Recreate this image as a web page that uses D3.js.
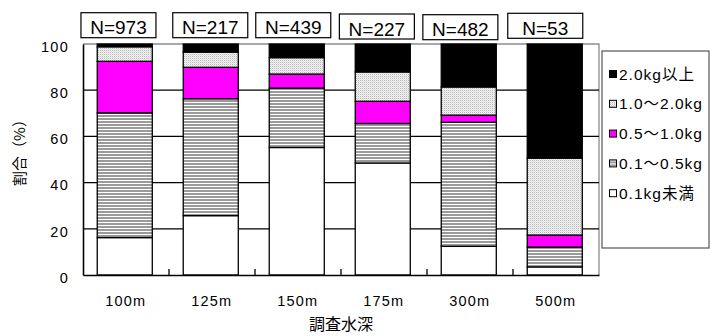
<!DOCTYPE html>
<html lang="ja">
<head>
<meta charset="utf-8">
<script src="https://cdn.jsdelivr.net/npm/d3@7"></script>
<style>
  html, body { margin: 0; padding: 0; background: #fff; }
  svg { display: block; }
  .lat { font-family: "Liberation Sans", Arial, "Noto Sans CJK JP", sans-serif; }
  .cjk { font-family: "Noto Sans CJK JP", sans-serif; }
</style>
</head>
<body>
<svg id="chart" width="712" height="336"></svg>
<script>
// Survey depths and sample counts
const depths = ["100m", "125m", "150m", "175m", "300m", "500m"];
const sampleCounts = [973, 217, 439, 227, 482, 53];

// Weight classes, bottom of the stack first
const weightClasses = ["0.1kg未満", "0.1～0.5kg", "0.5～1.0kg", "1.0～2.0kg", "2.0kg以上"];

// Share of each weight class (%) per depth
const under01 = [16.2, 25.7, 55.2, 48.5, 12.4, 3.5];
const from01to05 = [54.0, 50.6, 25.7, 17.1, 53.7, 8.6];
const from05to10 = [22.3, 13.6, 6.1, 9.6, 3.1, 5.2];
const from10to20 = [6.3, 6.6, 7.1, 12.7, 12.2, 33.3];
const over20 = [1.2, 3.5, 5.9, 12.1, 18.6, 49.4];

const yTicks = [0, 20, 40, 60, 80, 100];

const seriesValues = [under01, from01to05, from05to10, from10to20, over20];
const rows = depths.map((d, i) => {
  const r = { depth: d };
  weightClasses.forEach((k, j) => { r[k] = seriesValues[j][i]; });
  return r;
});

const svg = d3.select("#chart");

const plot = { left: 83, right: 599, top: 44, bottom: 275 };

const x = d3.scaleBand()
  .domain(depths)
  .range([plot.left, plot.right])
  .paddingInner(0.36)
  .paddingOuter(0.18)
  .align(0.46);

const y = d3.scaleLinear().domain([0, 100]).range([plot.bottom, plot.top]);

// Fill patterns
const defs = svg.append("defs");
const stripes = defs.append("pattern")
  .attr("id", "pat-stripes").attr("patternUnits", "userSpaceOnUse")
  .attr("width", 4).attr("height", 3);
stripes.append("rect").attr("width", 4).attr("height", 3).attr("fill", "#fff");
stripes.append("rect").attr("y", 1).attr("width", 4).attr("height", 2).attr("fill", "#9a9a9a");

const dots = defs.append("pattern")
  .attr("id", "pat-dots").attr("patternUnits", "userSpaceOnUse")
  .attr("width", 2).attr("height", 2);
dots.append("rect").attr("width", 2).attr("height", 2).attr("fill", "#f4f4f4");
dots.append("rect").attr("width", 1).attr("height", 1).attr("fill", "#b8b8b8");
dots.append("rect").attr("x", 1).attr("y", 1).attr("width", 1).attr("height", 1).attr("fill", "#dcdcdc");

const fills = {
  "0.1kg未満": "#ffffff",
  "0.1～0.5kg": "url(#pat-stripes)",
  "0.5～1.0kg": "#ff00ff",
  "1.0～2.0kg": "url(#pat-dots)",
  "2.0kg以上": "#000000"
};

// Plot frame (top and right in grey)
svg.append("path")
  .attr("d", `M${plot.left},${plot.top}H${plot.right}V${plot.bottom}`)
  .attr("fill", "none").attr("stroke", "#8c8c8c").attr("stroke-width", 1.3);

// Horizontal gridlines
svg.append("g").selectAll("line")
  .data(yTicks.filter(t => t > 0 && t < 100))
  .join("line")
  .attr("x1", plot.left).attr("x2", plot.right)
  .attr("y1", d => y(d)).attr("y2", d => y(d))
  .attr("stroke", "#000").attr("stroke-width", 1.2);

// Stacked bars
const stack = d3.stack().keys(weightClasses);
const layers = stack(rows);

svg.append("g").selectAll("g")
  .data(layers)
  .join("g")
  .attr("fill", d => fills[d.key])
  .selectAll("rect")
  .data(d => d)
  .join("rect")
  .attr("x", d => x(d.data.depth))
  .attr("width", x.bandwidth())
  .attr("y", d => y(d[1]))
  .attr("height", d => y(d[0]) - y(d[1]))
  .attr("stroke", "#000")
  .attr("stroke-width", 1.3);

// Y axis
const yAxis = d3.axisLeft(y).tickValues(yTicks).tickSize(0).tickPadding(14);
const yg = svg.append("g").attr("transform", `translate(${plot.left},0)`).call(yAxis);
yg.select(".domain").attr("stroke", "#000").attr("stroke-width", 1.6);
yg.selectAll("text")
  .attr("font-size", 14.5)
  .attr("letter-spacing", "1.3px")
  .attr("fill", "#000")
  .attr("dy", "0.5em")
  .style("font-family", "'Liberation Sans', Arial, sans-serif");

// X axis with short inner ticks at band boundaries
const xAxis = d3.axisBottom(x).tickSize(0).tickPadding(21);
const xg = svg.append("g").attr("transform", `translate(0,${plot.bottom})`).call(xAxis);
xg.select(".domain").attr("stroke", "#000").attr("stroke-width", 1.6);
xg.selectAll("text")
  .attr("font-size", 14.5)
  .attr("letter-spacing", "1.2px")
  .attr("fill", "#000")
  .attr("dx", "1")
  .style("font-family", "'Liberation Sans', Arial, sans-serif");

const boundaries = d3.range(1, depths.length).map(i => plot.left + i * x.step());
svg.append("g").selectAll("line")
  .data(boundaries)
  .join("line")
  .attr("x1", d => d).attr("x2", d => d)
  .attr("y1", plot.bottom).attr("y2", plot.bottom - 6)
  .attr("stroke", "#000").attr("stroke-width", 1.3);

// Sample size boxes above the bars
const boxShift = [-6.3, -0.5, -3.5, -5.9, -8.4, -9.5];
const boxTop = [12.7, 12.7, 12.7, 14, 14.7, 13.3];
const boxW = 75, boxH = 25;
const nBoxes = svg.append("g").selectAll("g")
  .data(depths)
  .join("g")
  .attr("transform", (d, i) =>
    `translate(${x(d) + x.bandwidth() / 2 + boxShift[i] - boxW / 2},${boxTop[i]})`);
nBoxes.append("rect")
  .attr("width", boxW).attr("height", boxH)
  .attr("fill", "#fff").attr("stroke", "#000").attr("stroke-width", 1.2);
nBoxes.append("text")
  .attr("x", boxW / 2).attr("y", 21.6)
  .attr("text-anchor", "middle")
  .attr("font-size", 19)
  .style("font-family", "'Liberation Sans', Arial, sans-serif")
  .text((d, i) => `N=${sampleCounts[i]}`);

// Axis titles
svg.append("text")
  .attr("class", "cjk")
  .attr("transform", "translate(25,149) rotate(-90)")
  .attr("text-anchor", "middle")
  .attr("font-size", 15)
  .text("割合（%）");

svg.append("text")
  .attr("class", "cjk")
  .attr("x", 341).attr("y", 330)
  .attr("text-anchor", "middle")
  .attr("font-size", 16)
  .text("調査水深");

// Legend
const legend = svg.append("g").attr("transform", "translate(602,51)");
legend.append("rect")
  .attr("width", 107).attr("height", 197)
  .attr("fill", "#fff").attr("stroke", "#555").attr("stroke-width", 1.2);

const legendOrder = weightClasses.slice().reverse();
const items = legend.selectAll("g.item")
  .data(legendOrder)
  .join("g")
  .attr("class", "item")
  .attr("transform", (d, i) => `translate(0,${23 + i * 29.8})`);
items.append("rect")
  .attr("x", 7.5).attr("y", -3.5)
  .attr("width", 7).attr("height", 7)
  .attr("fill", d => fills[d])
  .attr("stroke", "#000").attr("stroke-width", 1);
items.append("text")
  .attr("x", 17).attr("y", 5.5)
  .attr("class", "lat")
  .attr("font-size", 15.5)
  .attr("letter-spacing", "1px")
  .text(d => d);
</script>
</body>
</html>
